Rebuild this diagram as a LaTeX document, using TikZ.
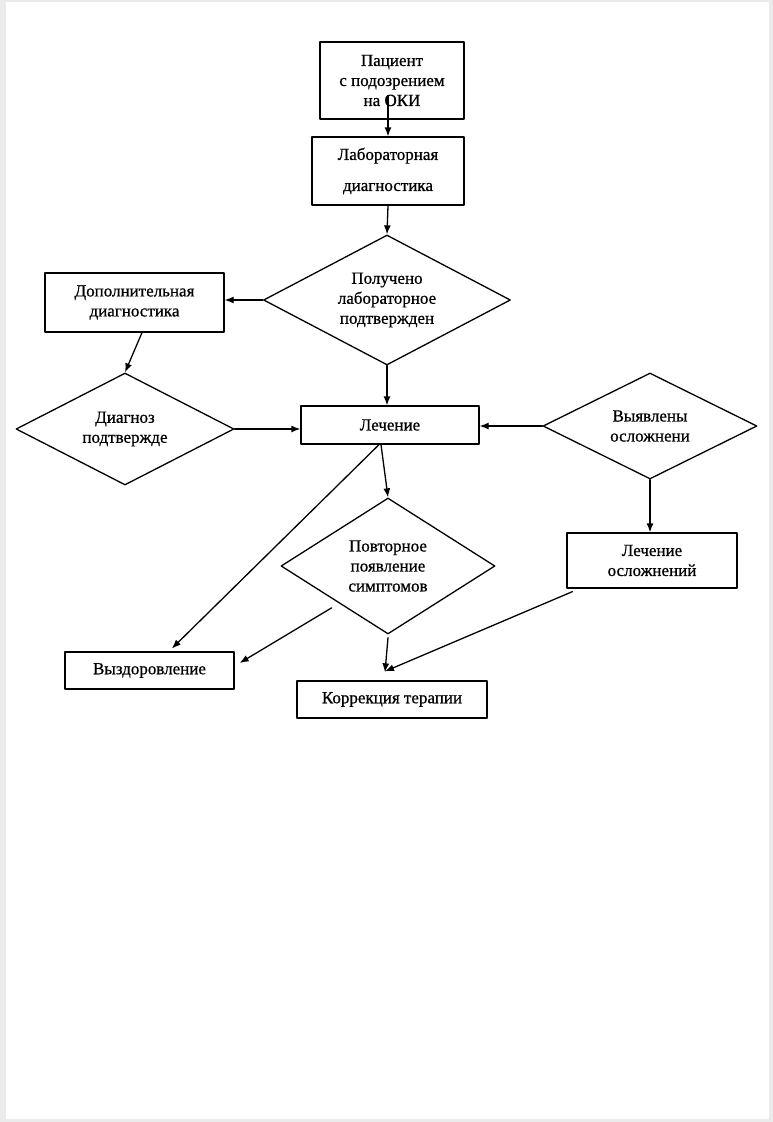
\documentclass[tikz,border=0pt]{standalone}
\usepackage{fontspec}
\setmainfont{Liberation Serif}[FakeBold=0.7]
\usetikzlibrary{shapes.geometric,arrows.meta}
\providecommand{\okiLineWidth}{1.3pt}
\providecommand{\okiFrameColor}{black!8}
\begin{document}
\begin{tikzpicture}[x=1pt, y=-1pt, line cap=round, line join=round,
  txt/.style={font=\fontsize{17}{20}\selectfont, align=center},
  box/.style={txt, draw, line width=\okiLineWidth, rectangle, inner sep=0pt},
  decision/.style={txt, draw, line width=\okiLineWidth, diamond, inner sep=0pt},
  arr/.style={line width=\okiLineWidth, -{Latex[length=9pt,width=7pt]}}]
% Page with a light frame
\useasboundingbox (0,0) rectangle (773,1122);
\fill[\okiFrameColor] (0,0) rectangle (773,1122);
\fill[white] (6,2) rectangle (769,1119);
% Boxes
\node[box, minimum width=144pt, minimum height=77pt] (pac) at (392,80.5) {Пациент\\с подозрением\\на ОКИ};
\node[box, minimum width=152pt, minimum height=68pt] (lab) at (388,171) {Лабораторная\\[11pt]диагностика};
\node[box, minimum width=179pt, minimum height=59pt] (dop) at (134.5,302.5) {Дополнительная\\диагностика};
\node[box, minimum width=178pt, minimum height=38pt] (lech) at (390,425) {Лечение};
\node[box, minimum width=170pt, minimum height=55pt] (lo) at (652,560.5) {Лечение\\осложнений};
\node[box, minimum width=169pt, minimum height=37pt] (vyz) at (149.5,670.5) {Выздоровление};
\node[box, minimum width=190pt, minimum height=37pt] (korr) at (392,699.5) {Коррекция терапии};
% Decisions
\node[decision, shape aspect=1.9, minimum width=247pt, minimum height=130pt] (pol) at (387,300) {Получено\\лабораторное\\подтвержден};
\node[decision, shape aspect=1.95, minimum width=218pt, minimum height=112pt] (diag) at (125,429) {Диагноз\\подтвержде};
\node[decision, shape aspect=2, minimum width=214pt, minimum height=106pt] (vyy) at (650,426) {Выявлены\\осложнени};
\node[decision, shape aspect=1.57, minimum width=214pt, minimum height=136pt] (pov) at (388,566) {Повторное\\появление\\симптомов};
\coordinate (povsw) at ([xshift=-2.5pt,yshift=-7.5pt]pov.south west);
% Connectors
\draw[arr] ([yshift=24pt]pac.south -| lab.north) -- (lab.north);
\draw[arr] (lab.south) -- (pol.north);
\draw[arr] (pol.west) -- (pol.west -| dop.east);
\draw[arr] ([xshift=7.5pt]dop.south) -- (diag.north);
\draw[arr] (diag.east) -- (diag.east -| lech.west);
\draw[arr] (pol.south) -- (pol.south |- lech.north);
\draw[arr] (vyy.west) -- (vyy.west -| lech.east);
\draw[arr] (vyy.south) -- (vyy.south |- lo.north);
\draw[arr] ([xshift=-9pt]lech.south) -- (pov.north);
\draw[arr, shorten >=4pt] ([xshift=-11pt]lech.south) -- ([xshift=19.5pt]vyz.north);
\draw[arr] (povsw) -- ([xshift=5pt,yshift=7.5pt]vyz.east);
\draw[arr] ([yshift=-3pt]pov.south) -- ([xshift=-7pt,yshift=8pt]korr.north);
\draw[arr] ([xshift=6pt,yshift=-3pt]lo.south west) -- ([xshift=-7pt,yshift=9pt]korr.north);
\end{tikzpicture}
\end{document}
